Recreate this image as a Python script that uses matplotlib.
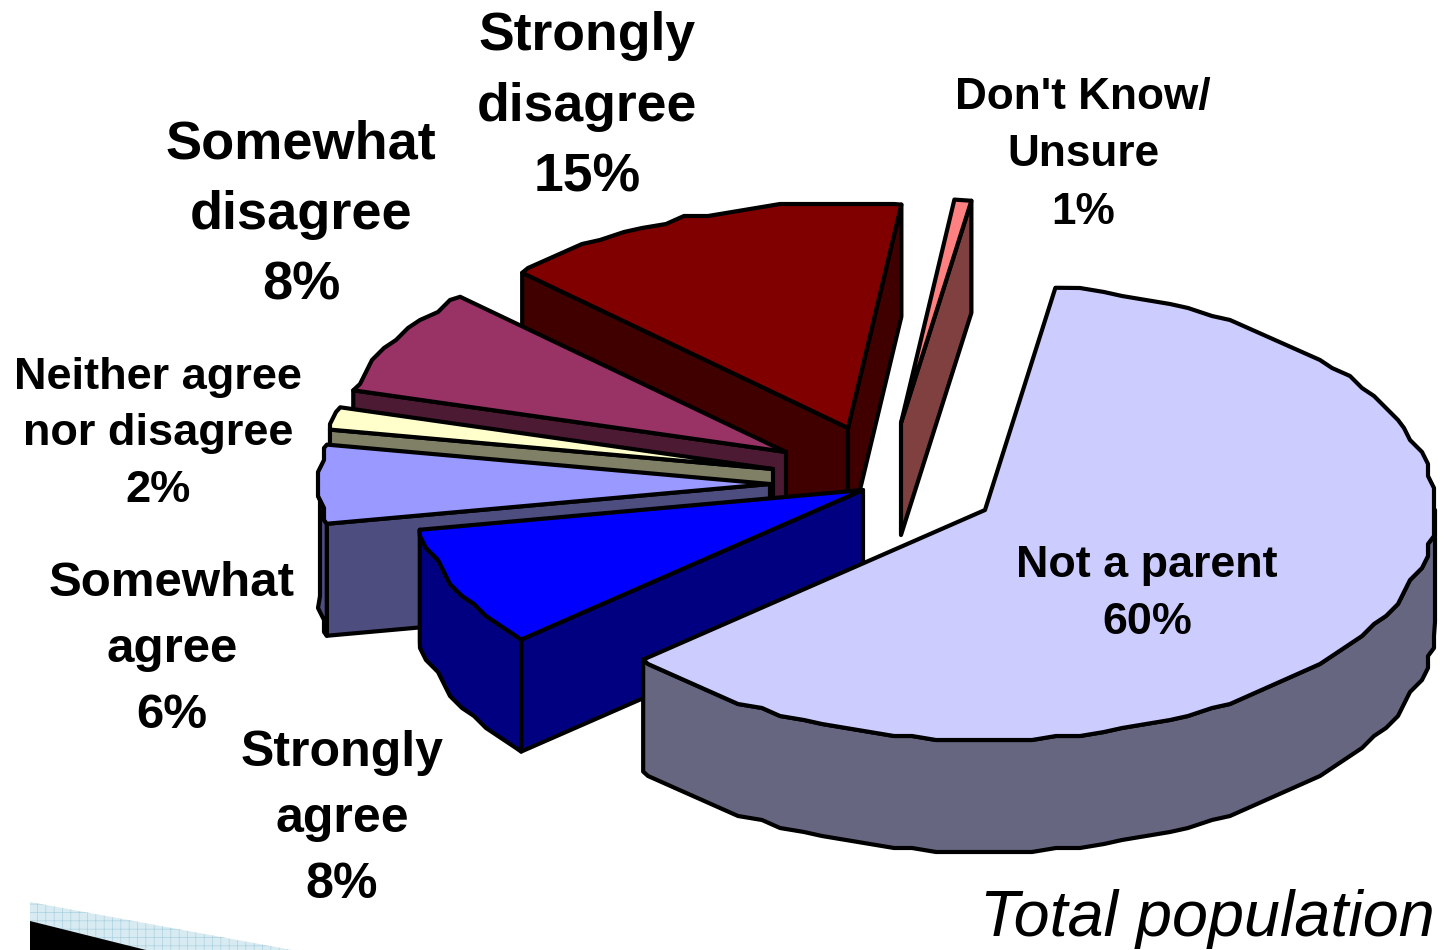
import matplotlib
matplotlib.use("Agg")
import matplotlib.pyplot as plt
import numpy as np

plt.rcParams["font.family"] = ["Liberation Sans", "DejaVu Sans"]

# shares in the order the pie runs, clockwise from the top
names = ["Not a parent", "Strongly\nagree", "Somewhat\nagree",
         "Neither agree\nnor disagree", "Somewhat\ndisagree",
         "Strongly\ndisagree", "Don't Know/\nUnsure"]
shares = [60.49, 8.4, 5.5, 1.6, 7.6, 14.6, 0.6]
top_colors = ["#ccccff", "#0000ff", "#9999ff", "#ffffcc", "#993366", "#800000", "#ff8080"]
side_colors = ["#666680", "#000080", "#4d4d80", "#808066", "#4d1a33", "#400000", "#804040"]

# where each exploded slice has its point, in picture pixels
apex_x = [985, 863, 770, 773, 786, 848, 901]
apex_y = [510, 490, 484, 469, 452, 428, 423]
label_x = [1147, 342, 172, 158, 301, 587, 1083]
label_y = [594, 819, 649, 434, 215, 107, 155]
label_size = [32.3, 36, 35.5, 32.5, 39, 38.5, 31.8]
label_gap = [1.5, 1.56, 1.6, 1.48, 1.52, 1.53, 1.5]

RX = 450
RY_BACK, RY_FRONT = 225, 230
DEPTH = 112
START = 81
EDGE = 3
STEP = 3


def point(t):
    # offset from the apex for angle t in degrees, back of the ellipse is a bit flatter
    r = np.radians(t)
    s = np.sin(r)
    return RX * np.cos(r), -np.where(s > 0, RY_BACK, RY_FRONT) * s


def rim(cx, cy, t1, t2, depth=0):
    # runs from t1 down to t2, inner points are snapped since the original edge is jagged
    grid = np.arange(np.ceil(t2 / STEP), np.floor(t1 / STEP) + 1)[::-1] * STEP
    grid = grid[(grid < t1) & (grid > t2)]
    dx, dy = point(grid)
    x = np.round((cx + dx) / 6) * 6
    y = np.round((cy + dy) / 4) * 4
    x0, y0 = point(t1)
    x1, y1 = point(t2)
    return np.r_[cx + x0, x, cx + x1], np.r_[cy + y0, y, cy + y1] + depth


fig = plt.figure(figsize=(14.45, 9.5), dpi=100)
ax = fig.add_axes([0, 0, 1, 1])
ax.set_xlim(0, 1445)
ax.set_ylim(950, 0)
ax.axis("off")

# slide decoration in the bottom corner
plt.rcParams["hatch.linewidth"] = 0.5
ax.fill([30, 30, 292], [902, 950, 950], facecolor="#d9ebf2", edgecolor="#a9d0e0",
        hatch="++", linewidth=0, zorder=1)
ax.fill([30, 30, 146], [921, 950, 950], color="black", linewidth=0, zorder=1)

sweeps = np.array(shares) / sum(shares) * 360
ends = START - np.cumsum(sweeps)
starts = ends + sweeps

# back slices first, so the ones in front cover them
order = [6, 5, 4, 3, 2, 1, 0]
z = 2
for i in order:
    cx, cy = apex_x[i], apex_y[i]
    t1, t2 = starts[i], ends[i]
    style = dict(edgecolor="black", linewidth=EDGE, joinstyle="round")

    # flat walls of the cut, only those that face the viewer
    for t, inward in [(t1, -1), (t2, 1)]:
        dx, dy = point(t)
        nx, ny = point(t + inward)
        cross = dx * ny - dy * nx
        normal_y = -dx if cross > 0 else dx
        if normal_y > 0:
            ax.fill([cx, cx + dx, cx + dx, cx], [cy, cy + dy, cy + dy + DEPTH, cy + DEPTH],
                    facecolor=side_colors[i], zorder=z, **style)
            z += 1

    # curved outer side, front half of the ellipse only
    for k in range(-2, 1):
        low, high = max(t2, k * 360 - 180), min(t1, k * 360)
        if high > low:
            x, y = rim(cx, cy, high, low)
            xb, yb = rim(cx, cy, high, low, DEPTH)
            ax.fill(np.r_[x, xb[::-1]], np.r_[y, yb[::-1]],
                    facecolor=side_colors[i], zorder=z, **style)
            z += 1

    x, y = rim(cx, cy, t1, t2)
    ax.fill(np.r_[cx, x], np.r_[cy, y], facecolor=top_colors[i], zorder=z, **style)
    z += 1

for i, name in enumerate(names):
    ax.text(label_x[i], label_y[i], f"{name}\n{shares[i]:.0f}%", ha="center", va="center",
            fontsize=label_size[i], fontweight="bold", linespacing=label_gap[i], color="black",
            zorder=50)

ax.text(1435, 936, "Total population", ha="right", va="baseline", fontsize=46.5,
        style="italic", color="black", zorder=50)

fig.savefig("out.png", dpi=100)
